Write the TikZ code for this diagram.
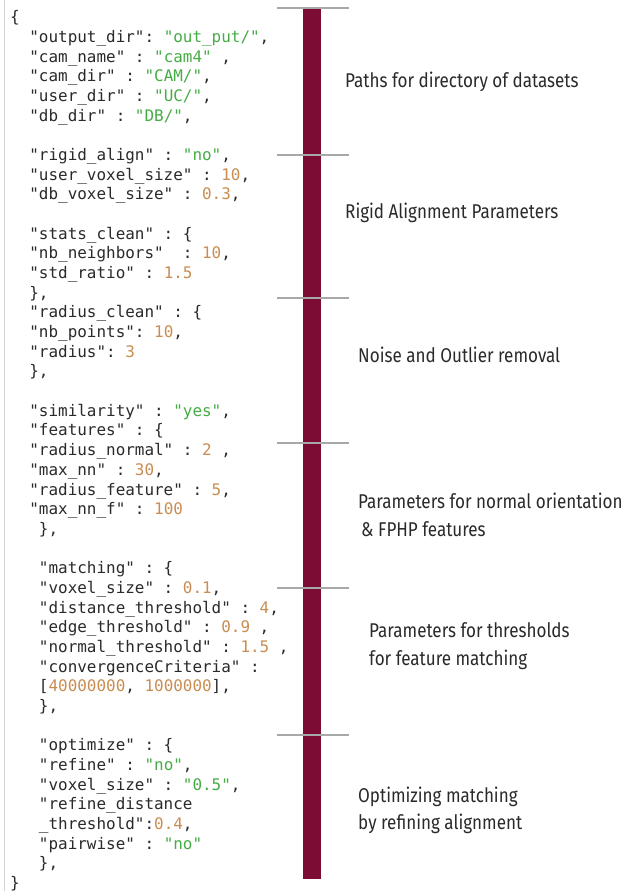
\documentclass[tikz,border=0pt]{standalone}
\usepackage{fontspec}
\setmonofont{DejaVu Sans Mono}
\newfontfamily\labelfont[FakeStretch=0.855]{Fira Sans}
\definecolor{keyc}{HTML}{2A2A2A}
\definecolor{strc}{HTML}{45AD45}
\definecolor{numc}{HTML}{C98D52}
\definecolor{barc}{RGB}{125,12,52}
\definecolor{sepc}{HTML}{A8A8A8}
\definecolor{edgec}{HTML}{D4D4D4}
\definecolor{labc}{HTML}{2A2A2A}
\newcommand\Str[1]{\textcolor{strc}{#1}}
\newcommand\Num[1]{\textcolor{numc}{#1}}
% one line of the configuration listing: name, column, row, text
\newcommand\cl[4]{\node[codeline] (#1) at ({10+9.6*#2},{22.7+19.68*#3}) {#4};}
\frenchspacing
\begin{document}
\begin{tikzpicture}[x=1bp,y=-1bp,
  codeline/.style={anchor=base west,inner sep=0pt,text=keyc,
    font=\fontsize{16}{19}\selectfont\ttfamily},
  labeltext/.style={anchor=base west,inner sep=0pt,text=labc,
    font=\labelfont\fontsize{20}{28}\selectfont},
  separator/.style={draw=sepc,line width=1.3bp},
]
\useasboundingbox (0,0) rectangle (625,891);
\fill[white] (0,0) rectangle (625,891);
\draw[edgec,line width=1bp] (4,0) -- (4,891);

% listing
\cl{c0}{0}{0}{\{}
\cl{c1}{2}{1}{"output\_dir": \Str{"out\_put/"},}
\cl{c2}{2}{2}{"cam\_name" : \Str{"cam4"} ,}
\cl{c3}{2}{3}{"cam\_dir" : \Str{"CAM/"},}
\cl{c4}{2}{4}{"user\_dir" : \Str{"UC/"},}
\cl{c5}{2}{5}{"db\_dir" : \Str{"DB/"},}
\cl{c7}{2}{7}{"rigid\_align" : \Str{"no"},}
\cl{c8}{2}{8}{"user\_voxel\_size" : \Num{10},}
\cl{c9}{2}{9}{"db\_voxel\_size" : \Num{0.3},}
\cl{c11}{2}{11}{"stats\_clean" : \{}
\cl{c12}{2}{12}{"nb\_neighbors"~~: \Num{10},}
\cl{c13}{2}{13}{"std\_ratio" : \Num{1.5}}
\cl{c14}{2}{14}{\},}
\cl{c15}{2}{15}{"radius\_clean" : \{}
\cl{c16}{2}{16}{"nb\_points": \Num{10},}
\cl{c17}{2}{17}{"radius": \Num{3}}
\cl{c18}{2}{18}{\},}
\cl{c20}{2}{20}{"similarity" : \Str{"yes"},}
\cl{c21}{2}{21}{"features" : \{}
\cl{c22}{2}{22}{"radius\_normal" : \Num{2} ,}
\cl{c23}{2}{23}{"max\_nn" : \Num{30},}
\cl{c24}{2}{24}{"radius\_feature" : \Num{5},}
\cl{c25}{2}{25}{"max\_nn\_f" : \Num{100}}
\cl{c26}{3}{26}{\},}
\cl{c28}{3}{28}{"matching" : \{}
\cl{c29}{3}{29}{"voxel\_size" : \Num{0.1},}
\cl{c30}{3}{30}{"distance\_threshold" : \Num{4},}
\cl{c31}{3}{31}{"edge\_threshold" : \Num{0.9} ,}
\cl{c32}{3}{32}{"normal\_threshold" : \Num{1.5} ,}
\cl{c33}{3}{33}{"convergenceCriteria" :}
\cl{c34}{3}{34}{[\Num{40000000}, \Num{1000000}],}
\cl{c35}{3}{35}{\},}
\cl{c37}{3}{37}{"optimize" : \{}
\cl{c38}{3}{38}{"refine" : \Str{"no"},}
\cl{c39}{3}{39}{"voxel\_size" : \Str{"0.5"},}
\cl{c40}{3}{40}{"refine\_distance}
\cl{c41}{3}{41}{\_threshold":\Num{0.4},}
\cl{c42}{3}{42}{"pairwise" : \Str{"no"}}
\cl{c43}{3}{43}{\},}
\cl{c44}{0}{44}{\}}

% section bar and dividers
\fill[barc] (303,9) rectangle (321,879);
\foreach \y in {8,155,298,443,588,735}
  \draw[separator] (277,\y) -- (349,\y);

% section captions
\node[labeltext] (paths) at (345,87) {Paths for directory of datasets};
\node[labeltext] (rigid) at (345,218) {Rigid Alignment Parameters};
\node[labeltext] (noise) at (358,362) {Noise and Outlier removal};
\node[labeltext] (norm1) at (358,508) {Parameters for normal orientation};
\node[labeltext] (norm2) at (361,536) {\& FPHP features};
\node[labeltext] (thr1) at (369,637) {Parameters for thresholds};
\node[labeltext] (thr2) at (369,665) {for feature matching};
\node[labeltext] (opt1) at (358,802) {Optimizing matching};
\node[labeltext] (opt2) at (358,829) {by refining alignment};
\end{tikzpicture}
\end{document}
